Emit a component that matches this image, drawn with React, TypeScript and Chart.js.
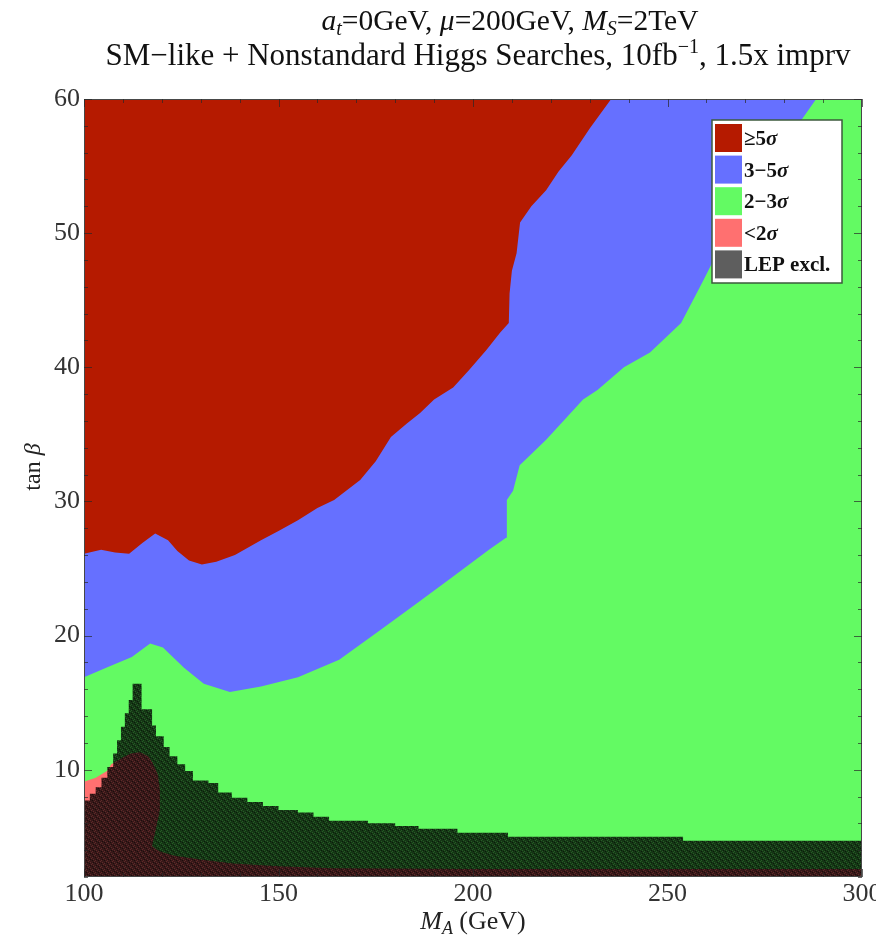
import React, { useEffect, useRef } from "react";
import { Chart, registerables } from "chart.js";

Chart.register(...registerables);

const FONT = '"Liberation Serif", "Times New Roman", serif';

// Axis ranges and tick labels
const xRange = [100, 300];
const yRange = [2, 60];
const xTickValues = [100, 150, 200, 250, 300];
const yTickValues = [10, 20, 30, 40, 50, 60];

// 2-3 sigma region (whole plane underneath)
const greenX = [100, 300];
const greenY = [60, 60];

// Lower edge of the 3-5 sigma band (filled upward)
const blueEdgeX = [100, 105.7, 112.3, 117, 120.3, 125.7, 130.8, 137.5, 145.5, 155, 165.6, 176.1, 185.6, 194.9, 204.1, 208.5, 208.7, 210.3, 212, 218.8, 228.3, 232, 238.8, 245.5, 253.5, 258.9, 265, 272.2, 280, 288.2];
const blueEdgeY = [16.9, 17.6, 18.4, 19.4, 19.1, 17.6, 16.4, 15.8, 16.2, 16.9, 18.2, 20.4, 22.4, 24.4, 26.4, 27.3, 30.1, 30.8, 32.7, 34.6, 37.6, 38.3, 40.0, 41.1, 43.3, 46.3, 49.8, 53.2, 56.6, 60];

// Lower edge of the >=5 sigma region (filled upward)
const redEdgeX = [100, 104.4, 108, 111.6, 115, 118.3, 121.6, 124, 127, 130.3, 134, 138.8, 145.5, 150, 155, 160, 164.3, 171, 175, 178.9, 183, 186.4, 190, 194.9, 199, 203.5, 207, 209.2, 209.4, 210, 211.2, 212.1, 215, 218.8, 222, 225.4, 230, 235.5];
const redEdgeY = [26.1, 26.4, 26.2, 26.1, 26.9, 27.6, 27.1, 26.3, 25.6, 25.3, 25.5, 26.0, 27.1, 27.8, 28.6, 29.5, 30.1, 31.6, 33.0, 34.8, 35.8, 36.6, 37.6, 38.5, 39.8, 41.3, 42.6, 43.3, 45.5, 47.2, 48.5, 50.8, 52.0, 53.2, 54.6, 55.8, 57.8, 60];

// Upper edge of the <2 sigma region (filled downward)
const lowEdgeX = [100, 103, 105.9, 107, 110, 112, 114.4, 116.5, 117.7, 119, 119.5, 119.5, 118.8, 117.5, 119.5, 122.9, 130, 138.3, 150, 164, 200, 300];
const lowEdgeY = [9.1, 9.4, 9.9, 10.4, 10.9, 11.2, 11.3, 11.0, 10.5, 9.6, 8.5, 7.0, 6.0, 4.3, 3.9, 3.6, 3.3, 3.0, 2.8, 2.65, 2.6, 2.6];

// Upper edge of the LEP excluded region (staircase, filled downward)
const lepEdgeX = [100, 101.5, 101.5, 103, 103, 104.5, 104.5, 106, 106, 107.5, 107.5, 108.5, 108.5, 109.5, 109.5, 110.5, 110.5, 111.5, 111.5, 112.5, 112.5, 114.8, 114.8, 117.5, 117.5, 118.5, 118.5, 120.5, 120.5, 122, 122, 124, 124, 126, 126, 128, 128, 132, 132, 134.5, 134.5, 138, 138, 142, 142, 146, 146, 150, 150, 155, 155, 159, 159, 163, 163, 173, 173, 180, 180, 186, 186, 196, 196, 209, 209, 254, 254, 300];
const lepEdgeY = [7.7, 7.7, 8.2, 8.2, 8.7, 8.7, 9.4, 9.4, 10.2, 10.2, 11.2, 11.2, 12.2, 12.2, 13.2, 13.2, 14.2, 14.2, 15.2, 15.2, 16.4, 16.4, 14.5, 14.5, 13.3, 13.3, 12.5, 12.5, 11.7, 11.7, 11.0, 11.0, 10.4, 10.4, 9.9, 9.9, 9.2, 9.2, 9.0, 9.0, 8.3, 8.3, 7.9, 7.9, 7.6, 7.6, 7.3, 7.3, 7.0, 7.0, 6.8, 6.8, 6.5, 6.5, 6.2, 6.2, 6.0, 6.0, 5.8, 5.8, 5.6, 5.6, 5.3, 5.3, 5.0, 5.0, 4.7, 4.7];

// Legend
const legendLabels = ["≥5σ", "3−5σ", "2−3σ", "<2σ", "LEP excl."];
const legendColors = ["#b51a00", "#6670ff", "#63fa63", "#ff7070", "#5e5e5e"];

const RED = "#b51a00";
const BLUE = "#6670ff";
const GREEN = "#63fa63";
const PINK = "#ff7070";

// Titles (rich text segments)
type Seg = { t: string; style?: string; weight?: string; size?: number; dy?: number };
const titleLine1: Seg[] = [
  { t: "a", style: "italic" },
  { t: "t", style: "italic", size: 20, dy: 5 },
  { t: "=0GeV, " },
  { t: "μ", style: "italic" },
  { t: "=200GeV, " },
  { t: "M", style: "italic" },
  { t: "S", style: "italic", size: 20, dy: 5 },
  { t: "=2TeV" },
];
const titleLine2: Seg[] = [
  { t: "SM−like + Nonstandard Higgs Searches, 10fb" },
  { t: "−1", size: 20, dy: -12 },
  { t: ", 1.5x imprv" },
];
const xTitle: Seg[] = [
  { t: "M", style: "italic" },
  { t: "A", style: "italic", size: 18, dy: 5 },
  { t: " (GeV)" },
];
const yTitle: Seg[] = [{ t: "tan " }, { t: "β", style: "italic" }];

const pts = (xs: number[], ys: number[]) => xs.map((x, i) => ({ x, y: ys[i] }));

function fontOf(s: Seg, base: number) {
  return `${s.style || "normal"} ${s.weight || "normal"} ${s.size || base}px ${FONT}`;
}

function drawRich(ctx: CanvasRenderingContext2D, segs: Seg[], x: number, y: number, align: "left" | "center", base: number, color: string) {
  let total = 0;
  for (const s of segs) {
    ctx.font = fontOf(s, base);
    total += ctx.measureText(s.t).width;
  }
  let cx = align === "center" ? x - total / 2 : x;
  ctx.textAlign = "left";
  ctx.textBaseline = "alphabetic";
  ctx.fillStyle = color;
  for (const s of segs) {
    ctx.font = fontOf(s, base);
    ctx.fillText(s.t, cx, y + (s.dy || 0));
    cx += ctx.measureText(s.t).width;
  }
}

function makePattern(): CanvasPattern | string {
  const c = document.createElement("canvas");
  c.width = 6;
  c.height = 6;
  const g = c.getContext("2d");
  if (!g) return "rgba(0,0,0,0.8)";
  const img = g.createImageData(6, 6);
  const light = [[1, 0], [4, 3], [0, 4], [3, 1], [2, 5], [5, 2]];
  const dark = [[2, 2], [5, 5], [0, 1], [3, 4]];
  for (let i = 0; i < 36; i++) {
    img.data[i * 4] = 0;
    img.data[i * 4 + 1] = 0;
    img.data[i * 4 + 2] = 0;
    img.data[i * 4 + 3] = 200;
  }
  for (const [px, py] of light) img.data[(py * 6 + px) * 4 + 3] = 160;
  for (const [px, py] of dark) img.data[(py * 6 + px) * 4 + 3] = 228;
  g.putImageData(img, 0, 0);
  return g.createPattern(c, "repeat") || "rgba(0,0,0,0.8)";
}

const decorPlugin = {
  id: "decor",
  afterDatasetsDraw(chart: any) {
    const ctx: CanvasRenderingContext2D = chart.ctx;
    const a = chart.chartArea;
    const xs = chart.scales.x;
    const ys = chart.scales.y;
    ctx.save();
    // frame
    ctx.strokeStyle = "#474747";
    ctx.lineWidth = 1;
    ctx.strokeRect(a.left + 0.5, a.top + 0.5, a.right - a.left - 1, a.bottom - a.top - 1);
    // inward ticks
    ctx.strokeStyle = "rgba(40,40,40,0.7)";
    ctx.beginPath();
    for (let v = xRange[0]; v <= xRange[1]; v += 10) {
      const p = Math.round(xs.getPixelForValue(v)) + 0.5;
      const len = v % 50 === 0 ? 8 : 4;
      ctx.moveTo(p, a.bottom);
      ctx.lineTo(p, a.bottom - len);
      ctx.moveTo(p, a.top);
      ctx.lineTo(p, a.top + len);
    }
    for (let v = yRange[0]; v <= yRange[1]; v += 2) {
      const p = Math.round(ys.getPixelForValue(v)) + 0.5;
      const len = v % 10 === 0 ? 8 : 4;
      ctx.moveTo(a.left, p);
      ctx.lineTo(a.left + len, p);
      ctx.moveTo(a.right, p);
      ctx.lineTo(a.right - len, p);
    }
    ctx.stroke();

    // legend
    const bx = a.right - 150;
    const by = a.top + 21;
    const bw = 130;
    const bh = 163;
    ctx.fillStyle = "#ffffff";
    ctx.fillRect(bx, by, bw, bh);
    ctx.strokeStyle = "#3d5a3d";
    ctx.lineWidth = 1.5;
    ctx.strokeRect(bx, by, bw, bh);
    legendLabels.forEach((lab, i) => {
      const ry = by + 4 + i * 31.6;
      ctx.fillStyle = legendColors[i];
      ctx.fillRect(bx + 3, ry, 27, 28);
      const parts = lab.split("σ");
      const segs: Seg[] = [];
      parts.forEach((p, j) => {
        if (p) segs.push({ t: p, weight: "bold" });
        if (j < parts.length - 1) segs.push({ t: "σ", weight: "bold", style: "italic" });
      });
      drawRich(ctx, segs, bx + 32, ry + 21, "left", 21, "#111");
    });

    // titles
    drawRich(ctx, titleLine1, 510, 30, "center", 29.5, "#111");
    drawRich(ctx, titleLine2, 478, 65, "center", 31, "#111");
    drawRich(ctx, xTitle, (a.left + a.right) / 2, 929, "center", 26, "#222");
    ctx.save();
    ctx.translate(40, 467);
    ctx.rotate(-Math.PI / 2);
    drawRich(ctx, yTitle, 0, 0, "center", 24, "#222");
    ctx.restore();
    ctx.restore();
  },
};

export default function App() {
  const ref = useRef<HTMLCanvasElement | null>(null);
  useEffect(() => {
    if (!ref.current) return;
    const pattern = makePattern();
    const base = { borderWidth: 0, borderColor: "transparent", pointRadius: 0, pointHoverRadius: 0, tension: 0 };
    const chart = new Chart(ref.current, {
      type: "line",
      data: {
        datasets: [
          { ...base, label: "2−3σ", data: pts(greenX, greenY), fill: "start", backgroundColor: GREEN, order: 5 },
          { ...base, label: "3−5σ", data: pts(blueEdgeX, blueEdgeY), fill: "end", backgroundColor: BLUE, order: 4 },
          { ...base, label: "≥5σ", data: pts(redEdgeX, redEdgeY), fill: "end", backgroundColor: RED, order: 3 },
          { ...base, label: "<2σ", data: pts(lowEdgeX, lowEdgeY), fill: "start", backgroundColor: PINK, order: 2 },
          { ...base, label: "LEP excl.", data: pts(lepEdgeX, lepEdgeY), fill: "start", backgroundColor: pattern as any, order: 1 },
        ] as any,
      },
      options: {
        responsive: false,
        animation: false,
        events: [],
        layout: { padding: { top: 99, right: 14, bottom: 0, left: 0 }, autoPadding: false } as any,
        plugins: {
          legend: { display: false },
          tooltip: { enabled: false },
          title: { display: false },
        },
        scales: {
          x: {
            type: "linear",
            min: xRange[0],
            max: xRange[1],
            afterBuildTicks: (s: any) => {
              s.ticks = xTickValues.map((v) => ({ value: v }));
            },
            afterFit: (s: any) => {
              s.height = 66;
              s.paddingLeft = 0;
              s.paddingRight = 0;
            },
            ticks: { font: { family: FONT, size: 26 }, color: "#333", padding: 2, maxRotation: 0, autoSkip: false },
            grid: { display: false, drawTicks: false },
            border: { display: false },
          },
          y: {
            type: "linear",
            min: yRange[0],
            max: yRange[1],
            afterBuildTicks: (s: any) => {
              s.ticks = yTickValues.map((v) => ({ value: v }));
            },
            afterFit: (s: any) => {
              s.width = 84;
              s.paddingTop = 0;
              s.paddingBottom = 0;
            },
            ticks: { font: { family: FONT, size: 26 }, color: "#333", padding: 4, autoSkip: false },
            grid: { display: false, drawTicks: false },
            border: { display: false },
          },
        },
      } as any,
      plugins: [decorPlugin],
    });
    return () => chart.destroy();
  }, []);
  return (
    <div style={{ position: "fixed", left: 0, top: 0, width: 876, height: 943, overflow: "hidden", background: "#fff" }}>
      <canvas ref={ref} width={876} height={943} style={{ display: "block", width: 876, height: 943 }} />
    </div>
  );
}
